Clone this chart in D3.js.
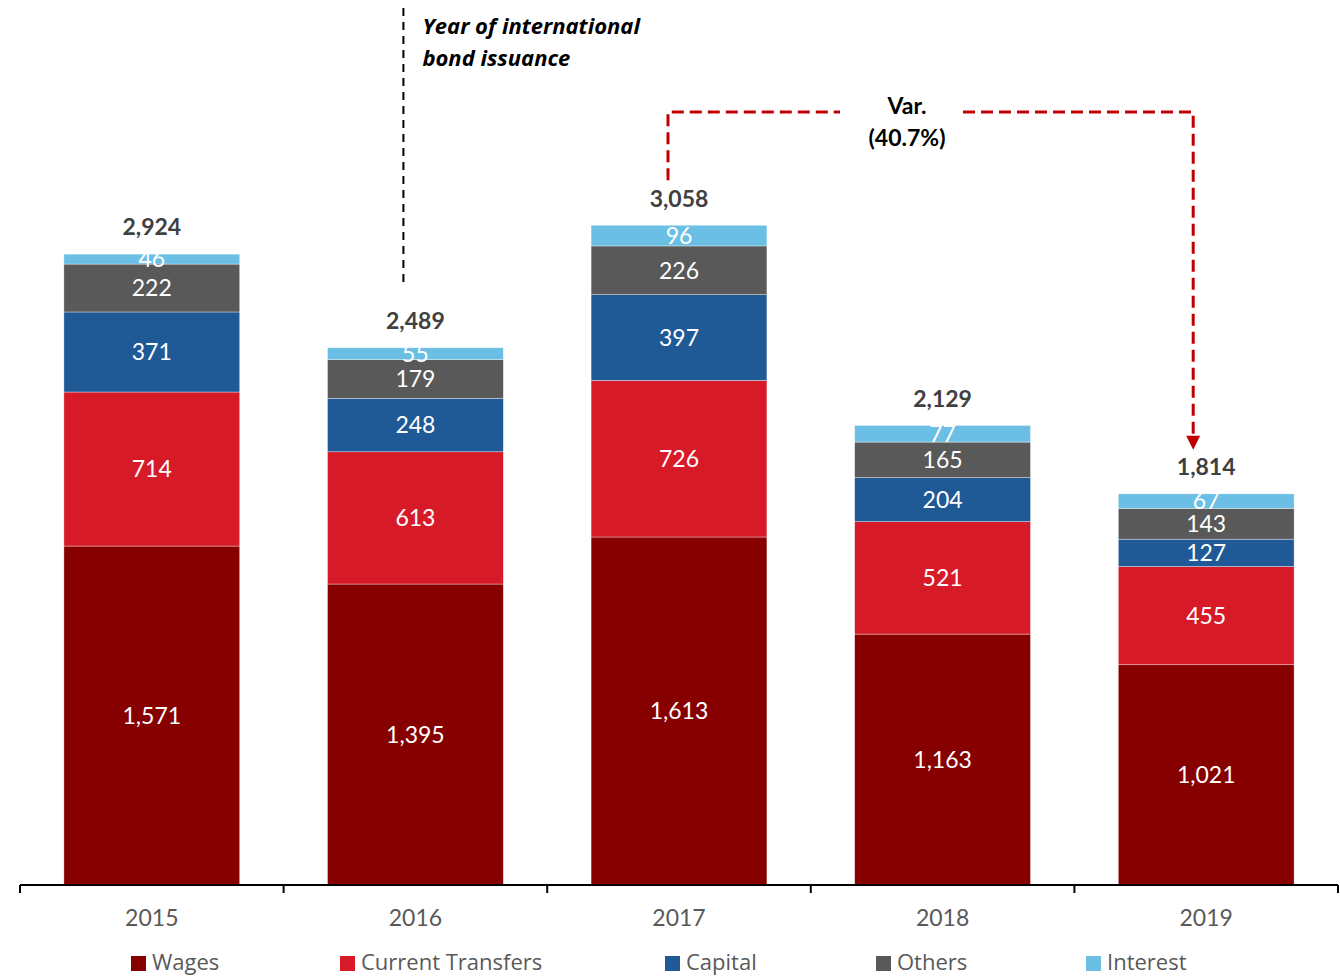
<!DOCTYPE html>
<html>
<head>
<meta charset="utf-8">
<script src="https://cdn.jsdelivr.net/npm/d3@7"></script>
<style>
  html, body { margin: 0; padding: 0; background: #fff; }
  svg { display: block; font-family: Lato, "Open Sans", sans-serif; }
</style>
</head>
<body>
<svg id="chart" width="1340" height="976"></svg>
<script>
// Government expenditure by component, 2015-2019
const years = ["2015", "2016", "2017", "2018", "2019"];
const seriesNames = ["Wages", "Current Transfers", "Capital", "Others", "Interest"];
const wages = [1571, 1395, 1613, 1163, 1021];
const currentTransfers = [714, 613, 726, 521, 455];
const capital = [371, 248, 397, 204, 127];
const others = [222, 179, 226, 165, 143];
const interest = [46, 55, 96, 77, 67];
const totals = [2924, 2489, 3058, 2129, 1814];
const colors = ["#870000", "#D71A28", "#1F5A97", "#595959", "#6BBFE4"];
const variationLabel = ["Var.", "(40.7%)"];
const bondNote = ["Year of international", "bond issuance"];

const seriesValues = [wages, currentTransfers, capital, others, interest];
const rows = years.map((y, i) => {
  const r = { year: y };
  seriesNames.forEach((s, k) => { r[s] = seriesValues[k][i]; });
  return r;
});

const svg = d3.select("#chart");
const fmt = d3.format(",");
const wordFont = "'Open Sans', Lato, sans-serif";

const x = d3.scaleBand().domain(years).range([20, 1338]).paddingInner(0.333).paddingOuter(0.1665);
const y = d3.scaleLinear().domain([0, 4000]).range([885, 22]);

const stack = d3.stack().keys(seriesNames);
const layers = stack(rows);

// Stacked bars
const layerG = svg.append("g").selectAll("g").data(layers).join("g")
  .attr("fill", (d, i) => colors[i]);

layerG.selectAll("rect").data(d => d).join("rect")
  .attr("x", d => x(d.data.year))
  .attr("width", x.bandwidth())
  .attr("y", d => y(d[1]))
  .attr("height", d => y(d[0]) - y(d[1]))
  .attr("stroke", "#ffffff")
  .attr("stroke-width", 0.6)
  .attr("stroke-opacity", 0.6);

// Segment value labels
layerG.selectAll("text").data(d => d.map(v => ({ v, key: d.key }))).join("text")
  .attr("x", d => x(d.v.data.year) + x.bandwidth() / 2)
  .attr("y", d => (y(d.v[0]) + y(d.v[1])) / 2)
  .attr("dy", "0.36em")
  .attr("text-anchor", "middle")
  .attr("fill", "#ffffff")
  .attr("font-size", 23)
  .text(d => fmt(d.v.data[d.key]));

// Totals above bars
svg.append("g").selectAll("text").data(years).join("text")
  .attr("x", d => x(d) + x.bandwidth() / 2)
  .attr("y", (d, i) => y(totals[i]) - 27)
  .attr("dy", "0.36em")
  .attr("text-anchor", "middle")
  .attr("fill", "#404040")
  .attr("font-weight", "bold")
  .attr("font-size", 23)
  .text((d, i) => fmt(totals[i]));

// Category axis with ticks at band boundaries
const axisG = svg.append("g");
axisG.append("line")
  .attr("x1", 20).attr("x2", 1338).attr("y1", 885).attr("y2", 885)
  .attr("stroke", "#000").attr("stroke-width", 2);
const step = x.step();
const firstEdge = x(years[0]) - x.paddingOuter() * step;
axisG.selectAll("line.tick").data(d3.range(years.length + 1)).join("line")
  .attr("class", "tick")
  .attr("x1", i => firstEdge + i * step)
  .attr("x2", i => firstEdge + i * step)
  .attr("y1", 885).attr("y2", 893)
  .attr("stroke", "#000").attr("stroke-width", 2);
axisG.selectAll("text").data(years).join("text")
  .attr("x", d => x(d) + x.bandwidth() / 2)
  .attr("y", 918)
  .attr("dy", "0.36em")
  .attr("text-anchor", "middle")
  .attr("fill", "#595959")
  .attr("font-size", 23)
  .text(d => d);

// Legend
const legendX = [131, 340, 665, 876, 1086];
const legend = svg.append("g").selectAll("g").data(seriesNames).join("g")
  .attr("transform", (d, i) => `translate(${legendX[i]},962)`);
legend.append("rect")
  .attr("x", 0).attr("y", -6).attr("width", 15).attr("height", 15)
  .attr("fill", (d, i) => colors[i]);
legend.append("text")
  .attr("x", 21).attr("y", 0).attr("dy", "0.36em")
  .attr("fill", "#595959").attr("font-size", 22)
  .style("font-family", wordFont)
  .text(d => d);

// Bond issuance marker (2016)
const bondX = x("2016") + x.bandwidth() / 2 - 12;
svg.append("line")
  .attr("x1", bondX).attr("x2", bondX)
  .attr("y1", 8).attr("y2", 283)
  .attr("stroke", "#000").attr("stroke-width", 2)
  .attr("stroke-dasharray", "8,6");
svg.append("g").selectAll("text").data(bondNote).join("text")
  .attr("x", bondX + 19)
  .attr("y", (d, i) => 26 + i * 32)
  .attr("dy", "0.36em")
  .attr("font-weight", "bold").attr("font-style", "italic")
  .attr("font-size", 22).attr("fill", "#000")
  .style("font-family", wordFont)
  .text(d => d);

// Variation bracket 2017 -> 2019
const red = "#C00000";
const vx1 = x("2017") + x.bandwidth() / 2 - 11;
const vx2 = x("2019") + x.bandwidth() / 2 - 13;
const vTop = 112;
const dash = "12,6";
svg.append("path")
  .attr("d", `M${vx1},${y(totals[2]) - 45} V${vTop} H840`)
  .attr("fill", "none").attr("stroke", red).attr("stroke-width", 3)
  .attr("stroke-dasharray", dash);
svg.append("path")
  .attr("d", `M963,${vTop} H${vx2} V${y(totals[4]) - 58}`)
  .attr("fill", "none").attr("stroke", red).attr("stroke-width", 3)
  .attr("stroke-dasharray", dash);
const tipY = y(totals[4]) - 44;
svg.append("path")
  .attr("d", `M${vx2 - 7},${tipY - 14} L${vx2 + 7},${tipY - 14} L${vx2},${tipY} Z`)
  .attr("fill", red);
svg.append("g").selectAll("text").data(variationLabel).join("text")
  .attr("x", 907)
  .attr("y", (d, i) => 106 + i * 32)
  .attr("dy", "0.36em")
  .attr("text-anchor", "middle")
  .attr("font-weight", "bold").attr("font-size", 23).attr("fill", "#000")
  .text(d => d);
</script>
</body>
</html>
